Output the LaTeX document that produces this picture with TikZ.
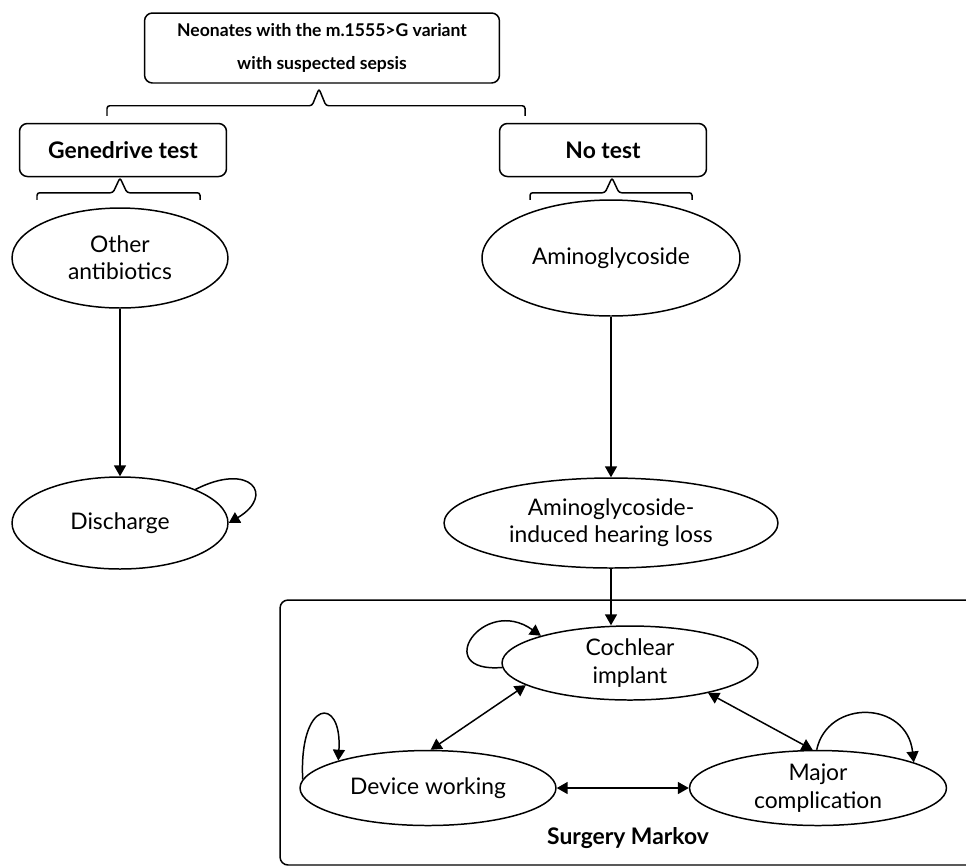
\documentclass[tikz,border=0pt]{standalone}
\usepackage{fontspec}
\setmainfont{Lato}
\usetikzlibrary{positioning,shapes.geometric,arrows.meta,calc}

\begin{document}
\begin{tikzpicture}[
  x=0.02cm, y=-0.02cm,
  line width=0.85pt,
  choice/.style={rectangle, draw, rounded corners=4.5pt, align=center, inner sep=0pt, font=\fontsize{13}{15.5}\selectfont\bfseries, minimum width=4.14cm, minimum height=1.06cm},
  state/.style={ellipse, draw, align=center, inner sep=0pt, font=\fontsize{13}{15.5}\selectfont},
  brace/.style={rounded corners=1.5pt},
  arrow/.style={-{Triangle[length=6.2pt,width=6.8pt]}},
  twoway/.style={{Triangle[length=6.2pt,width=6.8pt]}-{Triangle[length=6.2pt,width=6.8pt]}}
]
  \useasboundingbox (0,0) rectangle (966,867);
  \clip (0,0) rectangle (966,867);

  % Decision
  \node[choice, minimum width=7.1cm, minimum height=1.4cm, font=\fontsize{10}{18.5}\selectfont\bfseries] (root) at (322,48) {Neonates with the m.1555>G variant\\with suspected sepsis};
  \node[choice] (gene) at (123,150) {Genedrive test};
  \node[choice] (notest) at (603,150) {No test};

  \draw[brace] ($(root.south)+(-215,32)$) -- ++(0,-10) -- ++(205,0) -- ++(7,-17) -- ++(7,17) -- ++(199,0) -- ++(0,10);
  \draw[brace] ($(gene.south)+(-86,22.5)$) -- ++(0,-7) -- ++(76,0) -- ++(7,-15) -- ++(7,15) -- ++(73,0) -- ++(0,7);
  \draw[brace] ($(notest.south)+(-73,22.5)$) -- ++(0,-7) -- ++(75,0) -- ++(7,-15) -- ++(7,15) -- ++(73,0) -- ++(0,7);

  % Treatment arms
  \node[state, minimum width=4.32cm, minimum height=2cm] (other) at (120,258) {Other\\antibiotics};
  \node[state, minimum width=5.16cm, minimum height=2.32cm] (amino) at (611,258) {Aminoglycoside};
  \node[state, minimum width=4.32cm, minimum height=1.84cm] (discharge) at (120,523) {Discharge};
  \node[state, minimum width=6.68cm, minimum height=1.8cm] (aihl) at (611,523) {Aminoglycoside-\\induced hearing loss};

  % Surgery Markov
  \node[draw, rounded corners=4.5pt, minimum width=14.4cm, minimum height=5.3cm] (markov) at (640,732.5) {};
  \node[font=\fontsize{13}{15.5}\selectfont\bfseries] (markovlbl) at (628,838) {Surgery Markov};
  \node[state, minimum width=5.12cm, minimum height=1.48cm] (cochlear) at (630,663) {Cochlear\\implant};
  \node[state, minimum width=5.12cm, minimum height=1.5cm] (device) at (428,788) {Device working};
  \node[state, minimum width=5.14cm, minimum height=1.5cm] (major) at (818,788) {Major\\complication};

  % Transitions
  \draw[arrow] (other) -- (discharge);
  \draw[arrow] (amino) -- (aihl);
  \draw[arrow] (aihl.south) -- (aihl.south |- cochlear.north);
  \draw[arrow] (discharge.24) .. controls +(55,-28) and +(47,-28) .. (discharge.east);
  \draw[arrow] (cochlear.182) .. controls +(-72,6) and +(-58,-41) .. (cochlear.163);
  \draw[arrow] (device.176) .. controls +(-4,-80) and +(4,-66) .. (device.163);
  \draw[arrow] (major.92) .. controls +(11,-51) and +(-7,-62) .. (major.15);
  \draw[twoway] (cochlear.192) -- (device.86);
  \draw[twoway] (cochlear.339) -- (major.98);
  \draw[twoway] (device) -- (major);
\end{tikzpicture}
\end{document}
